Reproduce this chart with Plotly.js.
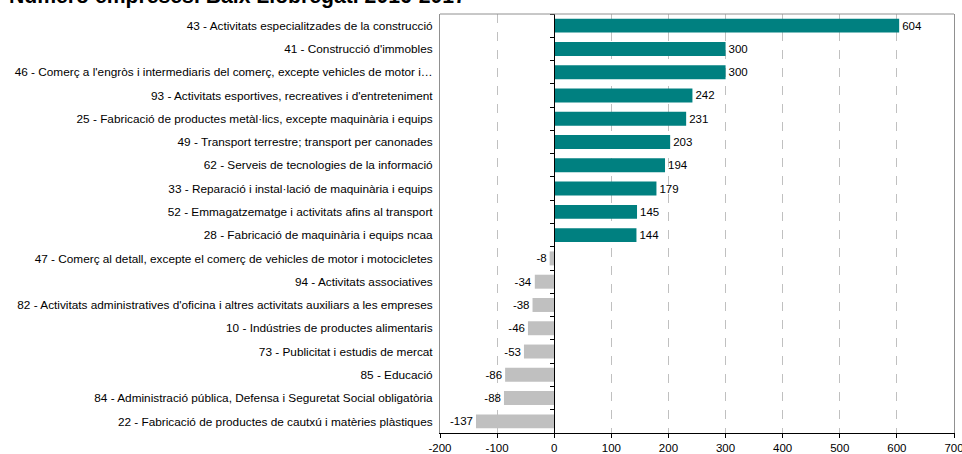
<!DOCTYPE html>
<html>
<head>
<meta charset="utf-8">
<script src="https://cdn.plot.ly/plotly-3.0.1.min.js"></script>
<style>html,body{margin:0;padding:0;background:#fff;}#chart{width:962px;height:454px;}</style>
</head>
<body>
<div id="chart"></div>
<script>
const titleText = "Número empreses. Baix Llobregat. 2016-2017";
const categories = [
  "43 - Activitats especialitzades de la construcció",
  "41 - Construcció d'immobles",
  "46 - Comerç a l'engròs i intermediaris del comerç, excepte vehicles de motor i…",
  "93 - Activitats esportives, recreatives i d'entreteniment",
  "25 - Fabricació de productes metàl·lics, excepte maquinària i equips",
  "49 - Transport terrestre; transport per canonades",
  "62 - Serveis de tecnologies de la informació",
  "33 - Reparació i instal·lació de maquinària i equips",
  "52 - Emmagatzematge i activitats afins al transport",
  "28 - Fabricació de maquinària i equips ncaa",
  "47 - Comerç al detall, excepte el comerç de vehicles de motor i motocicletes",
  "94 - Activitats associatives",
  "82 - Activitats administratives d'oficina i altres activitats auxiliars a les empreses",
  "10 - Indústries de productes alimentaris",
  "73 - Publicitat i estudis de mercat",
  "85 - Educació",
  "84 - Administració pública, Defensa i Seguretat Social obligatòria",
  "22 - Fabricació de productes de cautxú i matèries plàstiques"
];
const values = [604, 300, 300, 242, 231, 203, 194, 179, 145, 144, -8, -34, -38, -46, -53, -86, -88, -137];
const xTicks = [-200, -100, 0, 100, 200, 300, 400, 500, 600, 700];

const posColor = "#008080";
const negColor = "#c0c0c0";
const font = "Liberation Sans, Arial, sans-serif";

const n = categories.length;
const boundaries = [];
for (let i = 0; i <= n; i++) boundaries.push(i - 0.5);

const W = 962, H = 454;
const M = { l: 440, r: 8, t: 14, b: 21 };
const plotW = W - M.l - M.r, plotH = H - M.t - M.b;

const traces = [
  {
    type: "bar",
    orientation: "h",
    y: categories,
    x: values,
    marker: { color: values.map(v => v >= 0 ? posColor : negColor) },
    text: values.map(String),
    textposition: "outside",
    cliponaxis: false,
    textfont: { family: font, size: 11.5, color: "#000" },
    hoverinfo: "x+y"
  },
  {
    type: "scatter",
    mode: "markers",
    x: [0],
    y: [0],
    yaxis: "y2",
    marker: { opacity: 0 },
    hoverinfo: "skip",
    showlegend: false
  }
];

const layout = {
  width: W,
  height: H,
  margin: M,
  paper_bgcolor: "#fff",
  plot_bgcolor: "#fff",
  showlegend: false,
  bargap: 0.4,
  font: { family: font, size: 11.5, color: "#000" },
  annotations: [
    {
      text: "<b>" + titleText + "</b>",
      font: { family: font, size: 21.2, color: "#000" },
      xref: "paper", yref: "paper",
      x: (8 - M.l) / plotW, xanchor: "left",
      y: 1 + (M.t - 9) / plotH, yanchor: "bottom",
      showarrow: false,
      borderpad: 0
    }
  ],
  xaxis: {
    range: [-200, 700],
    tickvals: xTicks,
    ticktext: xTicks.map(String),
    showgrid: true,
    gridcolor: "#c0c0c0",
    griddash: "dash",
    gridwidth: 1,
    zeroline: false,
    showline: true,
    linecolor: "#000",
    linewidth: 1,
    ticks: "outside",
    ticklen: 4,
    tickcolor: "#000",
    ticklabeloverflow: "allow",
    tickfont: { family: font, size: 11.5, color: "#000" },
    fixedrange: true
  },
  yaxis: {
    type: "category",
    autorange: "reversed",
    showline: true,
    linecolor: "#909090",
    mirror: true,
    ticks: "",
    showgrid: false,
    zeroline: false,
    ticklabelstandoff: 4,
    tickfont: { family: font, size: 11.8, color: "#000" },
    fixedrange: true
  },
  yaxis2: {
    overlaying: "y",
    anchor: "free",
    position: (0 - (-200)) / (700 - (-200)),
    range: [n - 0.5, -0.5],
    tickvals: boundaries,
    showticklabels: false,
    showline: true,
    linecolor: "#000",
    linewidth: 1,
    ticks: "outside",
    ticklen: 4,
    tickcolor: "#000",
    showgrid: false,
    zeroline: false,
    fixedrange: true
  },
  shapes: [
    { type: "line", xref: "paper", yref: "paper", x0: 0, x1: 1, y0: 1, y1: 1,
      line: { color: "#909090", width: 1 } }
  ]
};

Plotly.newPlot("chart", traces, layout, { displayModeBar: false, staticPlot: true });
</script>
</body>
</html>
